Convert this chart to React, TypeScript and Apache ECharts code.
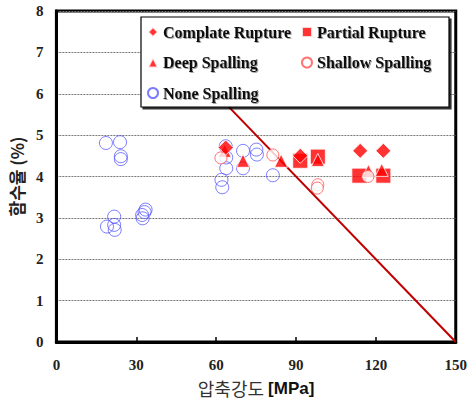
import React, { useEffect, useRef } from "react";
import * as echarts from "echarts";

const xTicks = [0, 30, 60, 90, 120, 150];
const yTicks = [0, 1, 2, 3, 4, 5, 6, 7, 8];

const completeX = [63.6, 91.6, 114.1, 122.8];
const completeY = [4.7, 4.5, 4.62, 4.62];

const partialX = [91.6, 98.2, 113.8, 122.8];
const partialY = [4.38, 4.48, 4.02, 4.02];

const deepX = [63.2, 70.1, 84.4, 98.2, 117.2, 122.2];
const deepY = [4.62, 4.38, 4.38, 4.4, 4.13, 4.16];

const shallowX = [61.8, 81.3, 98.2, 98.0, 117.0];
const shallowY = [4.45, 4.52, 3.8, 3.72, 4.0];

const noneX = [18.6, 23.9, 24.2, 24.2, 21.7, 19.0, 21.7, 21.9, 33.1, 32.2, 32.4, 33.5, 63.6, 63.8, 63.8, 62.0, 62.3, 70.1, 70.1, 75.1, 75.3, 81.3];
const noneY = [4.81, 4.83, 4.49, 4.42, 3.03, 2.79, 2.83, 2.71, 3.14, 3.07, 2.99, 3.2, 4.73, 4.46, 4.2, 3.92, 3.74, 4.62, 4.2, 4.65, 4.53, 4.03];

const lineX = [45, 150];
const lineY = [7, 0];

const zip = (xs: number[], ys: number[]) => xs.map((x, i) => [x, ys[i]]);

const RED = "#ff0000";
const serif = "Liberation Serif";

export default function App() {
  const ref = useRef<HTMLDivElement>(null);
  useEffect(() => {
    if (!ref.current) return;
    const chart = echarts.init(ref.current, null, { renderer: "svg" });
    const legendText = {
      fontFamily: serif,
      fontWeight: "bold" as const,
      fontSize: 16,
      color: "#111",
      lineHeight: 20,
      textShadowColor: "rgba(0,0,0,0.35)",
      textShadowOffsetX: 1,
      textShadowOffsetY: 1,
      textShadowBlur: 1,
    };
    chart.setOption({
      animation: false,
      backgroundColor: "#fff",
      grid: {
        left: 55,
        right: 12,
        top: 11,
        bottom: 60,
        show: true,
        borderColor: "#000",
        borderWidth: 3,
        backgroundColor: "transparent",
      },
      xAxis: {
        type: "value",
        min: xTicks[0],
        max: xTicks[xTicks.length - 1],
        interval: 30,
        name: "{a|압축강도 }{b|[MPa]}",
        nameLocation: "middle",
        nameGap: 37,
        nameTextStyle: {
          rich: {
            a: { fontFamily: "Noto Sans CJK KR", fontSize: 18, color: "#333" },
            b: { fontFamily: "Liberation Sans", fontWeight: "bold", fontSize: 17, color: "#111" },
          },
        },
        axisLine: { show: true, lineStyle: { color: "#000", width: 3 } },
        axisTick: { show: true, inside: true, length: 5, lineStyle: { color: "#000", width: 1.5 } },
        axisLabel: {
          fontFamily: serif,
          fontWeight: "bold",
          fontSize: 15,
          color: "#222",
          margin: 15,
        },
        splitLine: { show: false },
      },
      yAxis: {
        type: "value",
        min: yTicks[0],
        max: yTicks[yTicks.length - 1],
        interval: 1,
        name: "함수율 (%)",
        nameLocation: "middle",
        nameGap: 30,
        nameTextStyle: {
          fontFamily: "Noto Sans CJK KR",
          fontWeight: "bold",
          fontSize: 17,
          color: "#222",
        },
        axisLine: { show: true, lineStyle: { color: "#000", width: 3 } },
        axisTick: { show: false },
        axisLabel: {
          fontFamily: serif,
          fontWeight: "bold",
          fontSize: 15,
          color: "#222",
          margin: 13,
        },
        splitLine: { show: true, lineStyle: { color: "#777", width: 1, type: [2, 1] } },
      },
      legend: [
        {
          data: ["Complate Rupture", "Deep Spalling", "None Spalling"],
          orient: "vertical",
          left: 147,
          top: 22,
          padding: 0,
          itemWidth: 10,
          itemHeight: 10,
          itemGap: 10.5,
          selectedMode: false,
          textStyle: legendText,
          z: 200,
        },
        {
          data: ["Partial Rupture", "Shallow Spalling"],
          orient: "vertical",
          left: 301,
          top: 22,
          padding: 0,
          itemWidth: 10,
          itemHeight: 10,
          itemGap: 10.5,
          selectedMode: false,
          textStyle: legendText,
          z: 200,
        },
      ],
      graphic: [
        {
          type: "rect",
          z: 100,
          shape: { x: 141, y: 17, width: 308, height: 90 },
          style: {
            fill: "#fff",
            stroke: "#000",
            lineWidth: 1.2,
            shadowColor: "rgba(0,0,0,0.8)",
            shadowOffsetX: 2,
            shadowOffsetY: 2,
            shadowBlur: 0,
          },
        },
      ],
      series: [
        {
          type: "line",
          data: zip(lineX, lineY),
          symbol: "none",
          lineStyle: { color: "#c00000", width: 2 },
          z: 1,
        },
        {
          name: "None Spalling",
          type: "scatter",
          data: zip(noneX, noneY),
          symbol: "circle",
          symbolSize: 13,
          itemStyle: { color: "rgba(255,255,255,0)", borderColor: "#5a5aff", borderWidth: 1 },
          z: 2,
        },
        {
          name: "Partial Rupture",
          type: "scatter",
          data: zip(partialX, partialY),
          symbol: "rect",
          symbolSize: 15,
          itemStyle: { color: RED, borderColor: "#fff", borderWidth: 1 },
          z: 3,
        },
        {
          name: "Deep Spalling",
          type: "scatter",
          data: zip(deepX, deepY),
          symbol: "triangle",
          symbolSize: 13,
          itemStyle: { color: RED, borderColor: "#fff", borderWidth: 1 },
          z: 4,
        },
        {
          name: "Complate Rupture",
          type: "scatter",
          data: zip(completeX, completeY),
          symbol: "diamond",
          symbolSize: 15,
          itemStyle: { color: RED, borderColor: "#fff", borderWidth: 1 },
          z: 5,
        },
        {
          name: "Shallow Spalling",
          type: "scatter",
          data: zip(shallowX, shallowY),
          symbol: "circle",
          symbolSize: 12,
          itemStyle: { color: "#fff", borderColor: "#ff5050", borderWidth: 1 },
          z: 6,
        },
      ],
    });
    return () => chart.dispose();
  }, []);
  return (
    <div
      ref={ref}
      style={{ position: "absolute", left: 0, top: 0, width: 470, height: 402 }}
    />
  );
}
